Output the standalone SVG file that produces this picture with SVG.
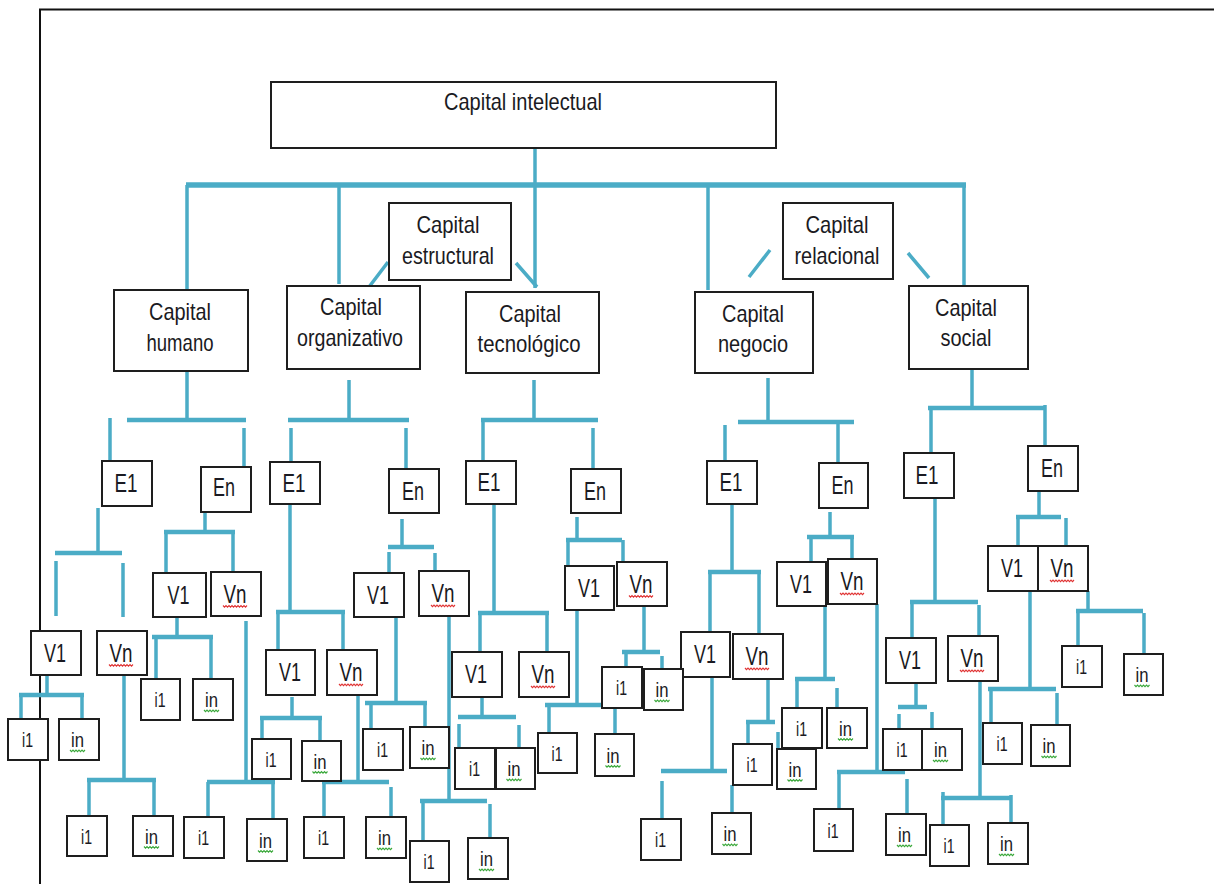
<svg xmlns="http://www.w3.org/2000/svg" xmlns:xlink="http://www.w3.org/1999/xlink" width="1214" height="884" viewBox="0 0 1214 884">
  <style>
    .frame { stroke:#111; stroke-width:2; fill:none; }
    .b { fill:#fff; stroke:#1e1e1e; stroke-width:2; }
    .t { font-family:"Liberation Sans", Arial, sans-serif; fill:#1a1a22; text-anchor:middle; }
    .big { font-size:24px; }
    .s { font-size:25px; }
    .i { font-size:21px; }
    .ln { stroke:#4BACC6; stroke-width:3.5; fill:none; }
    .bar { stroke:#4BACC6; stroke-width:4.5; fill:none; }
    .top { stroke-width:5.5; }
    .wr { stroke:#e03434; stroke-width:1.1; fill:none; }
    .wg { stroke:#3aa83a; stroke-width:1.1; fill:none; }
  </style>
  <defs>
    <path id="sqr" d="M0,0 l1.5,1.6 l1.5,-1.6 l1.5,1.6 l1.5,-1.6 l1.5,1.6 l1.5,-1.6 l1.5,1.6 l1.5,-1.6 l1.5,1.6 l1.5,-1.6 l1.5,1.6 l1.5,-1.6 l1.5,1.6 l1.5,-1.6 l1.5,1.6 l1.5,-1.6"/>
    <path id="sqg" d="M0,0 l1.5,1.6 l1.5,-1.6 l1.5,1.6 l1.5,-1.6 l1.5,1.6 l1.5,-1.6 l1.5,1.6 l1.5,-1.6 l1.5,1.6 l1.5,-1.6"/>
  </defs>

  <rect width="1214" height="884" fill="#fff"/>
  <!-- page frame -->
  <path class="frame" d="M40,884 V9.5 H1214"/>

  <!-- connectors -->
  <g id="connectors">
    <!-- first level -->
    <path class="ln" d="M535,148 V288"/>
    <path class="bar top" d="M186,185 H966"/>
    <path class="ln" d="M187,185 V290 M339,185 V284 M708,185 V290 M964,185 V286"/>
    <path class="ln" d="M388,262 L369,287 M516,263 L537,287 M770,250 L749,277 M908,253 L929,278"/>

    <!-- Capital humano -->
    <path class="ln" d="M187,372 V418 M244,428 V467 M110,418 V461"/>
    <path class="bar" d="M127,420 H246"/>
    <path class="ln" d="M98,508 V551 M56,561 V616 M123,563 V617"/>
    <path class="bar" d="M55,553 H122"/>
    <path class="ln" d="M47,675 V695 M21,695 V719 M82,695 V719"/>
    <path class="bar" d="M19,695 H84"/>
    <path class="ln" d="M124,675 V780 M89,780 V816 M154,780 V816"/>
    <path class="bar" d="M87,780 H156"/>
    <path class="ln" d="M205,512 V532 M166,532 V573 M233,532 V572"/>
    <path class="bar" d="M164,532 H235"/>
    <path class="ln" d="M177,617 V637 M156,637 V679 M211,637 V679"/>
    <path class="bar" d="M152,637 H213"/>
    <path class="ln" d="M246,621 V782 M208,782 V817 M273,782 V819"/>
    <path class="bar" d="M207,782 H275"/>

    <!-- Capital organizativo -->
    <path class="ln" d="M349,380 V420 M291,428 V462 M406,428 V469"/>
    <path class="bar" d="M288,420 H409"/>
    <path class="ln" d="M290,504 V612 M278,612 V650 M343,612 V650"/>
    <path class="bar" d="M276,612 H345"/>
    <path class="ln" d="M292,697 V718 M262,718 V739 M320,718 V741"/>
    <path class="bar" d="M260,718 H322"/>
    <path class="ln" d="M358,695 V782 M324,782 V817 M391,787 V817"/>
    <path class="bar" d="M322,782 H389"/>
    <path class="ln" d="M402,519 V547 M389,552 V573 M435,553 V571"/>
    <path class="bar" d="M388,547 H434"/>
    <path class="ln" d="M396,617 V703 M371,703 V729 M425,703 V727"/>
    <path class="bar" d="M365,703 H427"/>
    <path class="ln" d="M449,617 V801 M423,801 V841 M490,804 V838"/>
    <path class="bar" d="M420,801 H487"/>

    <!-- Capital tecnologico -->
    <path class="ln" d="M534,380 V420 M483,420 V461 M593,428 V469"/>
    <path class="bar" d="M481,420 H598"/>
    <path class="ln" d="M494,504 V613 M480,613 V652 M547,613 V652"/>
    <path class="bar" d="M478,613 H549"/>
    <path class="ln" d="M482,697 V717 M459,724 V748 M519,725 V748"/>
    <path class="bar" d="M458,717 H516"/>
    <path class="ln" d="M577,517 V540 M568,540 V566 M623,540 V562"/>
    <path class="bar" d="M566,540 H622"/>
    <path class="ln" d="M577,610 V705 M549,705 V733 M615,705 V734"/>
    <path class="bar" d="M545,705 H613"/>
    <path class="ln" d="M644,606 V652 M626,652 V667 M662,656 V669"/>
    <path class="bar" d="M622,652 H660"/>

    <!-- Capital negocio -->
    <path class="ln" d="M768,378 V420 M725,425 V461 M838,422 V463"/>
    <path class="bar" d="M738,422 H854"/>
    <path class="ln" d="M732,504 V572 M710,572 V632 M759,572 V634"/>
    <path class="bar" d="M708,572 H761"/>
    <path class="ln" d="M712,677 V771 M662,781 V819 M732,785 V813"/>
    <path class="bar" d="M661,771 H727"/>
    <path class="ln" d="M768,679 V722 M748,722 V744 M778,732 V749"/>
    <path class="bar" d="M746,722 H775"/>
    <path class="ln" d="M830,512 V537 M811,537 V562 M852,537 V559"/>
    <path class="bar" d="M807,537 H854"/>
    <path class="ln" d="M825,606 V679 M797,679 V708 M837,688 V708"/>
    <path class="bar" d="M795,679 H835"/>
    <path class="ln" d="M877,604 V772 M839,772 V809 M907,779 V814"/>
    <path class="bar" d="M837,772 H905"/>

    <!-- Capital social -->
    <path class="ln" d="M972,369 V408 M931,408 V453 M1045,405 V446"/>
    <path class="bar" d="M928,408 H1046"/>
    <path class="ln" d="M935,498 V602 M912,602 V638 M979,605 V636"/>
    <path class="bar" d="M910,602 H978"/>
    <path class="ln" d="M916,683 V707 M899,714 V729 M932,712 V729"/>
    <path class="bar" d="M898,707 H927"/>
    <path class="ln" d="M980,681 V798 M943,792 V825 M1011,795 V823"/>
    <path class="bar" d="M941,798 H1011"/>
    <path class="ln" d="M1039,491 V517 M1018,517 V546 M1066,518 V546"/>
    <path class="bar" d="M1016,517 H1061"/>
    <path class="ln" d="M1030,591 V689 M991,689 V723 M1057,693 V725"/>
    <path class="bar" d="M988,689 H1056"/>
    <path class="ln" d="M1088,591 V611 M1078,611 V646 M1144,613 V654"/>
    <path class="bar" d="M1076,611 H1143"/>
  </g>

  <!-- upper nodes -->
  <g id="capital-intelectual"><rect class="b" x="271" y="82" width="505" height="66"/><text class="t big" x="523" y="110" textLength="158" lengthAdjust="spacingAndGlyphs">Capital intelectual</text></g>
  <g id="capital-estructural"><rect class="b" x="389" y="203" width="122" height="77"/><text class="t big" x="448" y="233" textLength="63" lengthAdjust="spacingAndGlyphs">Capital</text><text class="t big" x="448" y="264" textLength="92" lengthAdjust="spacingAndGlyphs">estructural</text></g>
  <g id="capital-relacional"><rect class="b" x="783" y="203" width="110" height="76"/><text class="t big" x="837" y="233" textLength="63" lengthAdjust="spacingAndGlyphs">Capital</text><text class="t big" x="837" y="264" textLength="85" lengthAdjust="spacingAndGlyphs">relacional</text></g>
  <g id="capital-humano"><rect class="b" x="114" y="290" width="134" height="81"/><text class="t big" x="180" y="320" textLength="62" lengthAdjust="spacingAndGlyphs">Capital</text><text class="t big" x="180" y="351" textLength="67" lengthAdjust="spacingAndGlyphs">humano</text></g>
  <g id="capital-organizativo"><rect class="b" x="287" y="286" width="133" height="83"/><text class="t big" x="351" y="315" textLength="62" lengthAdjust="spacingAndGlyphs">Capital</text><text class="t big" x="350" y="346" textLength="106" lengthAdjust="spacingAndGlyphs">organizativo</text></g>
  <g id="capital-tecnologico"><rect class="b" x="466" y="292" width="133" height="81"/><text class="t big" x="530" y="322" textLength="62" lengthAdjust="spacingAndGlyphs">Capital</text><text class="t big" x="529" y="352" textLength="103" lengthAdjust="spacingAndGlyphs">tecnológico</text></g>
  <g id="capital-negocio"><rect class="b" x="695" y="292" width="118" height="81"/><text class="t big" x="753" y="322" textLength="62" lengthAdjust="spacingAndGlyphs">Capital</text><text class="t big" x="753" y="352" textLength="70" lengthAdjust="spacingAndGlyphs">negocio</text></g>
  <g id="capital-social"><rect class="b" x="909" y="286" width="119" height="83"/><text class="t big" x="966" y="316" textLength="62" lengthAdjust="spacingAndGlyphs">Capital</text><text class="t big" x="966" y="346" textLength="51" lengthAdjust="spacingAndGlyphs">social</text></g>

  <!-- elements -->
  <g id="h-e1"><rect class="b" x="102" y="461" width="50" height="45"/><text class="t s" x="126" y="492" textLength="23" lengthAdjust="spacingAndGlyphs">E1</text></g>
  <g id="h-en"><rect class="b" x="201" y="467" width="50" height="45"/><text class="t s" x="224" y="496" textLength="22" lengthAdjust="spacingAndGlyphs">En</text></g>
  <g id="o-e1"><rect class="b" x="270" y="462" width="50" height="42"/><text class="t s" x="294" y="491.5" textLength="23" lengthAdjust="spacingAndGlyphs">E1</text></g>
  <g id="o-en"><rect class="b" x="389" y="469" width="50" height="44"/><text class="t s" x="413" y="499.5" textLength="22" lengthAdjust="spacingAndGlyphs">En</text></g>
  <g id="t-e1"><rect class="b" x="466" y="461" width="50" height="43"/><text class="t s" x="489" y="491" textLength="23" lengthAdjust="spacingAndGlyphs">E1</text></g>
  <g id="t-en"><rect class="b" x="571" y="469" width="50" height="44"/><text class="t s" x="595" y="499.5" textLength="22" lengthAdjust="spacingAndGlyphs">En</text></g>
  <g id="n-e1"><rect class="b" x="707" y="461" width="50" height="43"/><text class="t s" x="731" y="491" textLength="23" lengthAdjust="spacingAndGlyphs">E1</text></g>
  <g id="n-en"><rect class="b" x="819" y="463" width="49" height="45"/><text class="t s" x="842.5" y="494" textLength="22" lengthAdjust="spacingAndGlyphs">En</text></g>
  <g id="s-e1"><rect class="b" x="904" y="453" width="50" height="45"/><text class="t s" x="927" y="484" textLength="23" lengthAdjust="spacingAndGlyphs">E1</text></g>
  <g id="s-en"><rect class="b" x="1028" y="446" width="50" height="45"/><text class="t s" x="1052" y="477" textLength="22" lengthAdjust="spacingAndGlyphs">En</text></g>

  <!-- variables -->
  <g id="h-e1-v1"><rect class="b" x="31" y="631" width="50" height="44"/><text class="t s" x="55" y="661.5" textLength="22" lengthAdjust="spacingAndGlyphs">V1</text></g>
  <g id="h-e1-vn"><rect class="b" x="97" y="631" width="50" height="44"/><text class="t s" x="121" y="661.5" textLength="23" lengthAdjust="spacingAndGlyphs">Vn</text><use class="wr" href="#sqr" x="109" y="664.5"/></g>
  <g id="h-en-v1"><rect class="b" x="153" y="573" width="53" height="44"/><text class="t s" x="178.5" y="603.5" textLength="22" lengthAdjust="spacingAndGlyphs">V1</text></g>
  <g id="h-en-vn"><rect class="b" x="211" y="572" width="50" height="44"/><text class="t s" x="235" y="602.5" textLength="23" lengthAdjust="spacingAndGlyphs">Vn</text><use class="wr" href="#sqr" x="223" y="605.5"/></g>
  <g id="o-e1-v1"><rect class="b" x="266" y="650" width="49" height="45"/><text class="t s" x="290" y="681" textLength="22" lengthAdjust="spacingAndGlyphs">V1</text></g>
  <g id="o-e1-vn"><rect class="b" x="327" y="650" width="50" height="45"/><text class="t s" x="351" y="681" textLength="23" lengthAdjust="spacingAndGlyphs">Vn</text><use class="wr" href="#sqr" x="339" y="684"/></g>
  <g id="o-en-v1"><rect class="b" x="354" y="573" width="50" height="44"/><text class="t s" x="378" y="603.5" textLength="22" lengthAdjust="spacingAndGlyphs">V1</text></g>
  <g id="o-en-vn"><rect class="b" x="419" y="571" width="50" height="45"/><text class="t s" x="443" y="602" textLength="23" lengthAdjust="spacingAndGlyphs">Vn</text><use class="wr" href="#sqr" x="431" y="605"/></g>
  <g id="t-e1-v1"><rect class="b" x="452" y="652" width="50" height="45"/><text class="t s" x="476" y="683" textLength="22" lengthAdjust="spacingAndGlyphs">V1</text></g>
  <g id="t-e1-vn"><rect class="b" x="519" y="652" width="50" height="45"/><text class="t s" x="543" y="683" textLength="23" lengthAdjust="spacingAndGlyphs">Vn</text><use class="wr" href="#sqr" x="531" y="686"/></g>
  <g id="t-en-v1"><rect class="b" x="565" y="566" width="49" height="44"/><text class="t s" x="589" y="596.5" textLength="22" lengthAdjust="spacingAndGlyphs">V1</text></g>
  <g id="t-en-vn"><rect class="b" x="617" y="562" width="50" height="44"/><text class="t s" x="641" y="592.5" textLength="23" lengthAdjust="spacingAndGlyphs">Vn</text><use class="wr" href="#sqr" x="629" y="595.5"/></g>
  <g id="n-e1-v1"><rect class="b" x="681" y="632" width="49" height="45"/><text class="t s" x="705" y="663" textLength="22" lengthAdjust="spacingAndGlyphs">V1</text></g>
  <g id="n-e1-vn"><rect class="b" x="733" y="634" width="50" height="45"/><text class="t s" x="757" y="665" textLength="23" lengthAdjust="spacingAndGlyphs">Vn</text><use class="wr" href="#sqr" x="745" y="668"/></g>
  <g id="n-en-v1"><rect class="b" x="777" y="562" width="49" height="44"/><text class="t s" x="801" y="592.5" textLength="22" lengthAdjust="spacingAndGlyphs">V1</text></g>
  <g id="n-en-vn"><rect class="b" x="828" y="559" width="49" height="45"/><text class="t s" x="852" y="590" textLength="23" lengthAdjust="spacingAndGlyphs">Vn</text><use class="wr" href="#sqr" x="840" y="593"/></g>
  <g id="s-e1-v1"><rect class="b" x="886" y="638" width="50" height="45"/><text class="t s" x="910" y="669" textLength="22" lengthAdjust="spacingAndGlyphs">V1</text></g>
  <g id="s-e1-vn"><rect class="b" x="948" y="636" width="50" height="45"/><text class="t s" x="972" y="667" textLength="23" lengthAdjust="spacingAndGlyphs">Vn</text><use class="wr" href="#sqr" x="960" y="670"/></g>
  <g id="s-en-v1"><rect class="b" x="988" y="546" width="50" height="45"/><text class="t s" x="1012" y="577" textLength="22" lengthAdjust="spacingAndGlyphs">V1</text></g>
  <g id="s-en-vn"><rect class="b" x="1038" y="546" width="50" height="45"/><text class="t s" x="1062" y="577" textLength="23" lengthAdjust="spacingAndGlyphs">Vn</text><use class="wr" href="#sqr" x="1050" y="580"/></g>

  <!-- indicators -->
  <g id="h-e1-v1-i1"><rect class="b" x="8" y="719" width="40" height="41"/><text class="t i" x="27.5" y="747" textLength="11" lengthAdjust="spacingAndGlyphs">i1</text></g>
  <g id="h-e1-v1-in"><rect class="b" x="59" y="719" width="40" height="41"/><text class="t i" x="77.5" y="747" textLength="13" lengthAdjust="spacingAndGlyphs">in</text><use class="wg" href="#sqg" x="70" y="750"/></g>
  <g id="h-e1-vn-i1"><rect class="b" x="67" y="816" width="40" height="40"/><text class="t i" x="86.5" y="843.5" textLength="11" lengthAdjust="spacingAndGlyphs">i1</text></g>
  <g id="h-e1-vn-in"><rect class="b" x="133" y="816" width="40" height="40"/><text class="t i" x="151.5" y="843.5" textLength="13" lengthAdjust="spacingAndGlyphs">in</text><use class="wg" href="#sqg" x="144" y="846.5"/></g>
  <g id="h-en-v1-i1"><rect class="b" x="141" y="679" width="39" height="41"/><text class="t i" x="160" y="707" textLength="11" lengthAdjust="spacingAndGlyphs">i1</text></g>
  <g id="h-en-v1-in"><rect class="b" x="193" y="679" width="40" height="41"/><text class="t i" x="211.5" y="707" textLength="13" lengthAdjust="spacingAndGlyphs">in</text><use class="wg" href="#sqg" x="204" y="710"/></g>
  <g id="h-en-vn-i1"><rect class="b" x="184" y="817" width="40" height="41"/><text class="t i" x="203.5" y="845" textLength="11" lengthAdjust="spacingAndGlyphs">i1</text></g>
  <g id="h-en-vn-in"><rect class="b" x="247" y="819" width="40" height="42"/><text class="t i" x="265.5" y="847.5" textLength="13" lengthAdjust="spacingAndGlyphs">in</text><use class="wg" href="#sqg" x="258" y="850.5"/></g>
  <g id="o-e1-v1-i1"><rect class="b" x="252" y="739" width="39" height="40"/><text class="t i" x="271" y="766.5" textLength="11" lengthAdjust="spacingAndGlyphs">i1</text></g>
  <g id="o-e1-v1-in"><rect class="b" x="302" y="741" width="39" height="40"/><text class="t i" x="320" y="768.5" textLength="13" lengthAdjust="spacingAndGlyphs">in</text><use class="wg" href="#sqg" x="312.5" y="771.5"/></g>
  <g id="o-e1-vn-i1"><rect class="b" x="304" y="817" width="40" height="41"/><text class="t i" x="323.5" y="845" textLength="11" lengthAdjust="spacingAndGlyphs">i1</text></g>
  <g id="o-e1-vn-in"><rect class="b" x="366" y="817" width="40" height="41"/><text class="t i" x="384.5" y="845" textLength="13" lengthAdjust="spacingAndGlyphs">in</text><use class="wg" href="#sqg" x="377" y="848"/></g>
  <g id="o-en-v1-i1"><rect class="b" x="363" y="729" width="40" height="41"/><text class="t i" x="382.5" y="757" textLength="11" lengthAdjust="spacingAndGlyphs">i1</text></g>
  <g id="o-en-v1-in"><rect class="b" x="410" y="727" width="39" height="41"/><text class="t i" x="428" y="755" textLength="13" lengthAdjust="spacingAndGlyphs">in</text><use class="wg" href="#sqg" x="420.5" y="758"/></g>
  <g id="o-en-vn-i1"><rect class="b" x="410" y="841" width="39" height="41"/><text class="t i" x="429" y="869" textLength="11" lengthAdjust="spacingAndGlyphs">i1</text></g>
  <g id="o-en-vn-in"><rect class="b" x="468" y="838" width="40" height="41"/><text class="t i" x="486.5" y="866" textLength="13" lengthAdjust="spacingAndGlyphs">in</text><use class="wg" href="#sqg" x="479" y="869"/></g>
  <g id="t-e1-v1-i1"><rect class="b" x="455" y="748" width="40" height="41"/><text class="t i" x="474.5" y="776" textLength="11" lengthAdjust="spacingAndGlyphs">i1</text></g>
  <g id="t-e1-v1-in"><rect class="b" x="496" y="748" width="39" height="41"/><text class="t i" x="514" y="776" textLength="13" lengthAdjust="spacingAndGlyphs">in</text><use class="wg" href="#sqg" x="506.5" y="779"/></g>
  <g id="t-en-v1-i1"><rect class="b" x="538" y="733" width="39" height="40"/><text class="t i" x="557" y="760.5" textLength="11" lengthAdjust="spacingAndGlyphs">i1</text></g>
  <g id="t-en-v1-in"><rect class="b" x="595" y="734" width="39" height="42"/><text class="t i" x="613" y="762.5" textLength="13" lengthAdjust="spacingAndGlyphs">in</text><use class="wg" href="#sqg" x="605.5" y="765.5"/></g>
  <g id="t-en-vn-i1"><rect class="b" x="602" y="667" width="40" height="41"/><text class="t i" x="621.5" y="695" textLength="11" lengthAdjust="spacingAndGlyphs">i1</text></g>
  <g id="t-en-vn-in"><rect class="b" x="644" y="669" width="39" height="41"/><text class="t i" x="662" y="697" textLength="13" lengthAdjust="spacingAndGlyphs">in</text><use class="wg" href="#sqg" x="654.5" y="700"/></g>
  <g id="n-e1-v1-i1"><rect class="b" x="641" y="819" width="40" height="41"/><text class="t i" x="660.5" y="847" textLength="11" lengthAdjust="spacingAndGlyphs">i1</text></g>
  <g id="n-e1-v1-in"><rect class="b" x="712" y="813" width="39" height="41"/><text class="t i" x="730" y="841" textLength="13" lengthAdjust="spacingAndGlyphs">in</text><use class="wg" href="#sqg" x="722.5" y="844"/></g>
  <g id="n-e1-vn-i1"><rect class="b" x="733" y="744" width="39" height="41"/><text class="t i" x="752" y="772" textLength="11" lengthAdjust="spacingAndGlyphs">i1</text></g>
  <g id="n-e1-vn-in"><rect class="b" x="777" y="749" width="39" height="40"/><text class="t i" x="795" y="776.5" textLength="13" lengthAdjust="spacingAndGlyphs">in</text><use class="wg" href="#sqg" x="787.5" y="779.5"/></g>
  <g id="n-en-v1-i1"><rect class="b" x="782" y="708" width="40" height="40"/><text class="t i" x="801.5" y="735.5" textLength="11" lengthAdjust="spacingAndGlyphs">i1</text></g>
  <g id="n-en-v1-in"><rect class="b" x="827" y="708" width="40" height="40"/><text class="t i" x="845.5" y="735.5" textLength="13" lengthAdjust="spacingAndGlyphs">in</text><use class="wg" href="#sqg" x="838" y="738.5"/></g>
  <g id="n-en-vn-i1"><rect class="b" x="814" y="809" width="39" height="42"/><text class="t i" x="833" y="837.5" textLength="11" lengthAdjust="spacingAndGlyphs">i1</text></g>
  <g id="n-en-vn-in"><rect class="b" x="886" y="814" width="40" height="41"/><text class="t i" x="904.5" y="842" textLength="13" lengthAdjust="spacingAndGlyphs">in</text><use class="wg" href="#sqg" x="897" y="845"/></g>
  <g id="s-e1-v1-i1"><rect class="b" x="883" y="729" width="39" height="41"/><text class="t i" x="902" y="757" textLength="11" lengthAdjust="spacingAndGlyphs">i1</text></g>
  <g id="s-e1-v1-in"><rect class="b" x="922" y="729" width="40" height="41"/><text class="t i" x="940.5" y="757" textLength="13" lengthAdjust="spacingAndGlyphs">in</text><use class="wg" href="#sqg" x="933" y="760"/></g>
  <g id="s-e1-vn-i1"><rect class="b" x="930" y="825" width="39" height="41"/><text class="t i" x="949" y="853" textLength="11" lengthAdjust="spacingAndGlyphs">i1</text></g>
  <g id="s-e1-vn-in"><rect class="b" x="988" y="823" width="40" height="41"/><text class="t i" x="1006.5" y="851" textLength="13" lengthAdjust="spacingAndGlyphs">in</text><use class="wg" href="#sqg" x="999" y="854"/></g>
  <g id="s-en-v1-i1"><rect class="b" x="983" y="723" width="39" height="41"/><text class="t i" x="1002" y="751" textLength="11" lengthAdjust="spacingAndGlyphs">i1</text></g>
  <g id="s-en-v1-in"><rect class="b" x="1031" y="725" width="39" height="41"/><text class="t i" x="1049" y="753" textLength="13" lengthAdjust="spacingAndGlyphs">in</text><use class="wg" href="#sqg" x="1041.5" y="756"/></g>
  <g id="s-en-vn-i1"><rect class="b" x="1062" y="646" width="40" height="41"/><text class="t i" x="1081.5" y="674" textLength="11" lengthAdjust="spacingAndGlyphs">i1</text></g>
  <g id="s-en-vn-in"><rect class="b" x="1124" y="654" width="39" height="41"/><text class="t i" x="1142" y="682" textLength="13" lengthAdjust="spacingAndGlyphs">in</text><use class="wg" href="#sqg" x="1134.5" y="685"/></g>
</svg>
